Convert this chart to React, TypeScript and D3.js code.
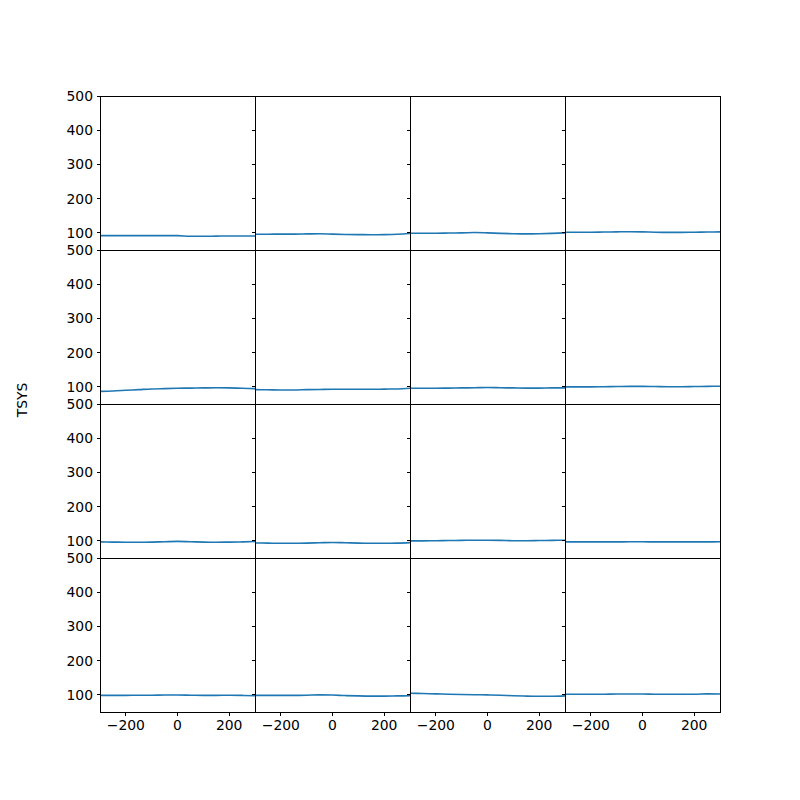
import React from "react";
import * as d3 from "d3";

const xPositions = [-300, -250, -200, -150, -100, -50, 0, 50, 100, 150, 200, 250, 300];

const row0 = [
  [92, 92, 92, 92, 92, 92, 92, 90, 90, 90.5, 91, 91, 91],
  [96, 96, 96.5, 96.5, 97, 97.5, 96.5, 95.5, 95, 94.5, 95, 96, 98],
  [99, 99, 99, 99.5, 100, 101, 100, 98.5, 97.5, 97, 97.5, 98.5, 100],
  [102, 102, 102, 102.5, 103, 103.5, 103, 102, 101.5, 101.5, 102, 102.5, 103],
];
const row1 = [
  [87, 88, 90, 92, 94, 95, 96, 96.5, 97, 97.5, 97, 96, 95],
  [92, 91.5, 91, 91, 92, 92.5, 93, 93, 93, 93, 93.5, 94, 96],
  [96, 96, 96, 96.5, 97, 97.5, 98, 97.5, 97, 96.5, 96.5, 97, 97],
  [100, 100, 100, 100.5, 101, 101.5, 101.5, 101, 100.5, 100.5, 101, 101.5, 102],
];
const row2 = [
  [97, 96.5, 96, 96, 96.5, 97.5, 98.5, 97.5, 96.5, 96, 96.5, 97, 98],
  [94, 93.5, 93, 93, 93.5, 94.5, 95.5, 94.5, 93.5, 93, 93, 93.5, 95],
  [100, 100, 100.5, 101, 101.5, 102, 102, 101.5, 100.5, 100.5, 101, 101.5, 102],
  [97, 97, 97, 97, 97, 97.5, 97.5, 97, 97, 97, 97, 97, 97.5],
];
const row3 = [
  [98.5, 98.5, 98.5, 99, 99, 99.5, 99.5, 99, 98.5, 98.5, 99, 98.5, 97.5],
  [98.5, 98.5, 98.5, 98.5, 99, 100, 99.5, 98, 97, 96.5, 96.5, 97, 97.5],
  [105, 104, 103, 102, 101, 100.5, 100, 99, 97.5, 96.5, 96, 96, 97],
  [102, 102, 102, 102, 102.5, 102.5, 102.5, 102, 102, 102, 102, 103, 102.5],
];
const panelRows = [row0, row1, row2, row3];

const yTicks = [100, 200, 300, 400, 500];
const xTicks = [-200, 0, 200];
const yLabel = "TSYS";

const W = 800, H = 800;
const left = 100, right = 720, top = 96, bottom = 712;
const nCols = 4, nRows = 4;
const cellW = (right - left) / nCols;
const cellH = (bottom - top) / nRows;
const FONT = "DejaVu Sans, sans-serif";
const FS = 13.9;
const fmt = (v: number) => (v < 0 ? "\u2212" + Math.abs(v) : String(v));

export default function App() {
  const x = d3.scaleLinear().domain([-300, 300]).range([0, cellW]);
  const y = d3.scaleLinear().domain([50, 500]).range([cellH, 0]);
  const line = d3
    .line<number>()
    .x((_, i) => x(xPositions[i]))
    .y((d) => y(d))
    .curve(d3.curveMonotoneX);

  return (
    <svg
      width={W}
      height={H}
      style={{ display: "block", position: "absolute", left: 0, top: 0 }}
      fontFamily={FONT}
    >
      <rect width={W} height={H} fill="white" />
      <defs>
        <clipPath id="cellclip">
          <rect x={0} y={0} width={cellW} height={cellH} />
        </clipPath>
      </defs>
      {panelRows.map((row, r) =>
        row.map((vals, c) => {
          const tx = left + c * cellW;
          const ty = top + r * cellH;
          return (
            <g key={`${r}-${c}`} transform={`translate(${tx},${ty})`}>
              <path
                d={line(vals) || ""}
                fill="none"
                stroke="#1f77b4"
                strokeWidth={1.6}
                clipPath="url(#cellclip)"
              />
              {yTicks.map((t) => (
                <line
                  key={t}
                  x1={-3.5}
                  x2={0}
                  y1={y(t)}
                  y2={y(t)}
                  stroke="black"
                  strokeWidth={1}
                  shapeRendering="crispEdges"
                />
              ))}
              {c === 0 &&
                yTicks.map((t) => (
                  <text key={t} x={-7} y={y(t)} dy="0.35em" textAnchor="end" fontSize={FS} fill="black">
                    {fmt(t)}
                  </text>
                ))}
              {r === nRows - 1 &&
                xTicks.map((t) => (
                  <g key={t}>
                    <line
                      x1={x(t)}
                      x2={x(t)}
                      y1={cellH}
                      y2={cellH + 3.5}
                      stroke="black"
                      strokeWidth={1}
                      shapeRendering="crispEdges"
                    />
                    <text x={x(t)} y={cellH + 7} dy="0.76em" textAnchor="middle" fontSize={FS} fill="black">
                      {fmt(t)}
                    </text>
                  </g>
                ))}
              <rect
                x={0}
                y={0}
                width={cellW}
                height={cellH}
                fill="none"
                stroke="black"
                strokeWidth={1}
                shapeRendering="crispEdges"
              />
            </g>
          );
        })
      )}
      <text
        transform={`translate(26.5,400) rotate(-90)`}
        textAnchor="middle"
        fontSize={FS}
        fill="black"
      >
        {yLabel}
      </text>
    </svg>
  );
}
